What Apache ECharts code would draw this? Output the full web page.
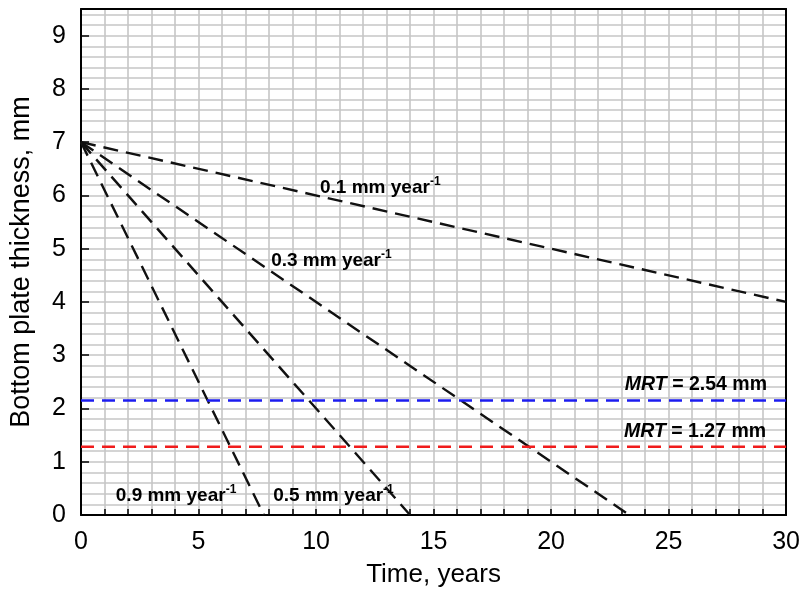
<!DOCTYPE html>
<html><head><meta charset="utf-8">
<script src="https://cdn.jsdelivr.net/npm/echarts@6/dist/echarts.min.js"></script>
<style>html,body{margin:0;padding:0;background:#fff}#c{width:803px;height:593px}</style>
</head><body><div id="c"></div>
<script>
// Corrosion-rate lines: time (years) and thickness (mm) at start/end
const rateNames = ['0.1', '0.3', '0.5', '0.9'];
const rateTimes = [[0, 30], [0, 23.33], [0, 14], [0, 7.78]];
const rateThick = [[7, 4], [7, 0], [7, 0], [7, 0]];
// MRT levels (drawn positions) and labels
const mrtLevels = [2.15, 1.28];
const mrtLabels = ['2.54', '1.27'];
const mrtColors = ['#1c1cf0', '#f01c1c'];
const xTickLabels = [0, 5, 10, 15, 20, 25, 30];
const yTickLabels = [0, 1, 2, 3, 4, 5, 6, 7, 8, 9];
// label anchor points in data coordinates [time, thickness]
const rateLabelPos = [[10.17, 6.15], [8.09, 4.77], [8.18, 0.36], [1.48, 0.36]];
const mrtLabelPos = [[23.14, 2.44], [23.1, 1.56]];

const chart = echarts.init(document.getElementById('c'));
const F = 'Liberation Sans, Arial, sans-serif';
const gridColor = '#c6c6c6';

const series = rateNames.map((n, i) => ({
  type: 'line', name: n + ' mm/yr', symbol: 'none', z: 3,
  data: rateTimes[i].map((t, k) => [t, rateThick[i][k]]),
  lineStyle: { color: '#111', width: 2.4, type: [15, 8] }
}));
mrtLevels.forEach((v, i) => series.push({
  type: 'line', name: 'MRT ' + mrtLabels[i], symbol: 'none', z: 3,
  data: [[0, v], [30, v]],
  lineStyle: { color: mrtColors[i], width: 2.4, type: [13, 8] }
}));

chart.setOption({
  animation: false,
  textStyle: { fontFamily: F },
  grid: { left: 80, right: 13, top: 9, bottom: 77 },
  xAxis: [{
    type: 'value', min: 0, max: 30, interval: 1,
    name: 'Time, years', nameLocation: 'middle', nameGap: 47,
    nameTextStyle: { fontSize: 26, color: '#000', fontFamily: F },
    axisLine: { lineStyle: { color: '#000', width: 2 } },
    axisTick: { inside: true, length: 6, lineStyle: { color: '#000', width: 1.5 } },
    axisLabel: { fontSize: 25, color: '#000', margin: 15, fontFamily: F,
      formatter: v => xTickLabels.includes(v) ? String(v) : '' },
    splitLine: { show: true, lineStyle: { color: gridColor, width: 1.6 } }
  }, {
    type: 'value', min: 0, max: 30, position: 'top',
    axisLine: { show: true, onZero: false, lineStyle: { color: '#000', width: 2 } },
    axisTick: { show: false }, axisLabel: { show: false }, splitLine: { show: false }
  }],
  yAxis: [{
    type: 'value', min: 0, max: 9.5, interval: 1,
    name: 'Bottom plate thickness, mm', nameLocation: 'middle', nameGap: 46,
    nameTextStyle: { fontSize: 27, color: '#000', fontFamily: F },
    axisLine: { show: true, lineStyle: { color: '#000', width: 2 } },
    axisTick: { inside: true, length: 8, lineStyle: { color: '#000', width: 1.5 } },
    axisLabel: { fontSize: 25, color: '#000', margin: 15, fontFamily: F,
      formatter: v => yTickLabels.includes(v) ? String(v) : '' },
    splitLine: { show: false }
  }, {
    type: 'value', min: 0, max: 9.5, interval: 0.2, position: 'right',
    axisLine: { show: true, onZero: false, lineStyle: { color: '#000', width: 2 } },
    axisTick: { show: false }, axisLabel: { show: false },
    splitLine: { show: true, lineStyle: { color: gridColor, width: 1.6 } }
  }],
  series: series
});

const rich = {
  b: { fontSize: 19, fontWeight: 'bold', color: '#111', fontFamily: F },
  s: { fontSize: 12, fontWeight: 'bold', color: '#111', fontFamily: F, padding: [0, 0, 12, 0] },
  i: { fontSize: 19.5, fontWeight: 'bold', fontStyle: 'italic', color: '#111', fontFamily: F },
  m: { fontSize: 19.5, fontWeight: 'bold', color: '#111', fontFamily: F }
};
const graphics = [];
rateNames.forEach((n, i) => {
  const p = chart.convertToPixel({ gridIndex: 0 }, rateLabelPos[i]);
  graphics.push({ type: 'text', x: p[0], y: p[1], z: 10,
    style: { text: '{b|' + n + ' mm year}{s|-1}', rich: rich, verticalAlign: 'middle' } });
});
mrtLabels.forEach((n, i) => {
  const p = chart.convertToPixel({ gridIndex: 0 }, mrtLabelPos[i]);
  graphics.push({ type: 'text', x: p[0], y: p[1], z: 10,
    style: { text: '{i|MRT}{m| = ' + n + ' mm}', rich: rich, verticalAlign: 'middle' } });
});
chart.setOption({ graphic: graphics });
</script></body></html>
